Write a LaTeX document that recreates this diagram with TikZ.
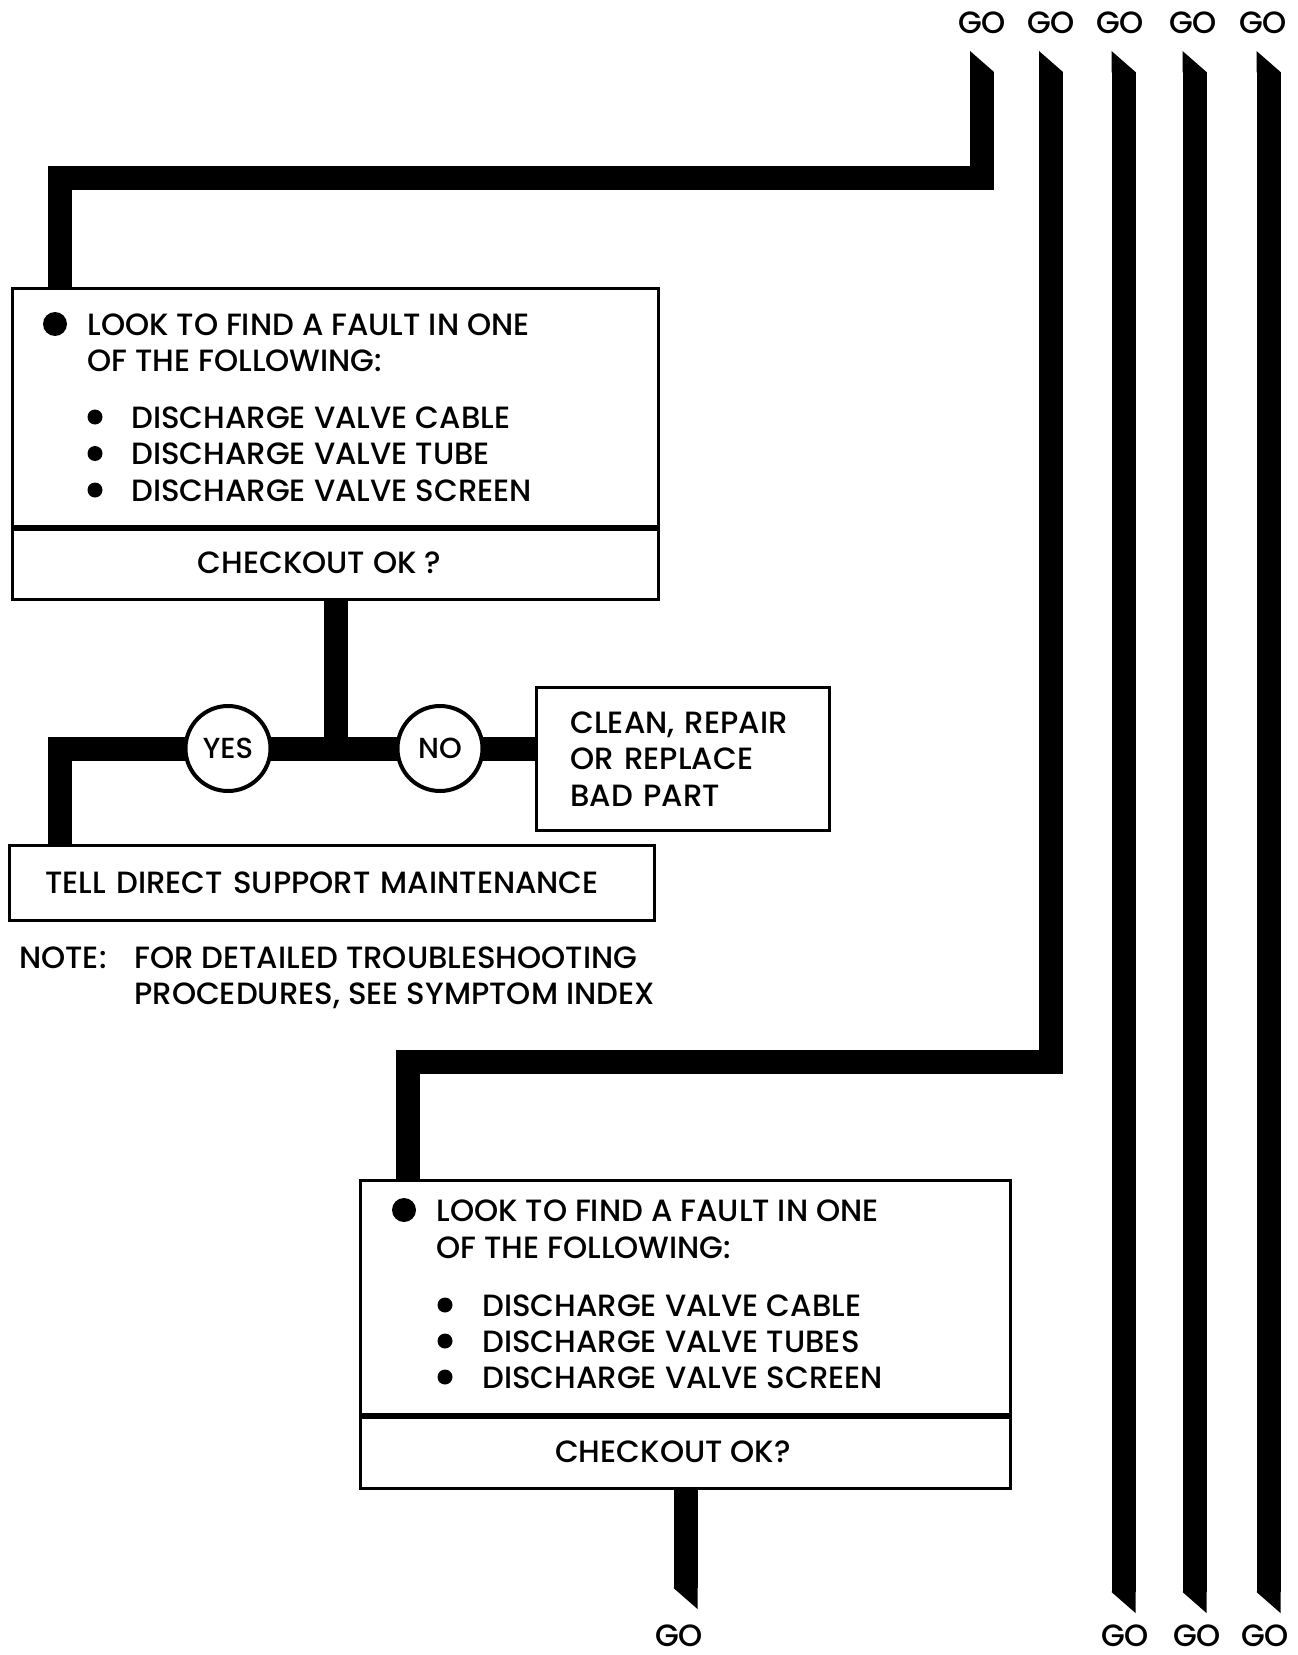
\documentclass[tikz,border=0pt]{standalone}
\usepackage{fontspec}
\setmainfont{Poppins}[UprightFont=* Medium]
\usetikzlibrary{positioning,fit}
\pgfdeclarelayer{background}
\pgfsetlayers{background,main}

\begin{document}
\begin{tikzpicture}[
  x=0.2mm, y=-0.2mm,
  font=\fontsize{17.5}{20.6}\selectfont,
  box/.style={draw,line width=0.6mm,fill=white,inner sep=0pt},
  txt/.style={anchor=west,inner sep=0pt,text height=4.4mm,text depth=0pt},
  go/.style={inner sep=0pt,text height=4.2mm,text depth=0pt},
  choice/.style={circle,draw,line width=0.8mm,fill=white,minimum size=17mm,inner sep=0pt,font=\fontsize{16.5}{18}\selectfont},
  bar/.style={line width=4.8mm,line join=miter},
  cuttop/.pic={\fill (-12,0.5) -- (-12,-21) -- (12,0) -- (12,0.5) -- cycle;},
  cutbot/.pic={\fill (-12,-0.5) -- (-12,0) -- (12,21) -- (12,-0.5) -- cycle;}
]
\useasboundingbox (0,0) rectangle (1297,1655);

% GO labels, top and bottom
\foreach \x [count=\i] in {982,1051,1120,1193,1263}
  \node[go] (go\i) at (\x,23) {GO};
\node[go] (gob0) at (679,1636) {GO};
\foreach \x [count=\i from 3] in {1125,1197,1265}
  \node[go] (gob\i) at (\x,1636) {GO};

% bar ends
\foreach \x [count=\i] in {982,1051,1123.5,1194.5,1268.5}
  \coordinate (top\i) at (\x,72);
\foreach \x [count=\i from 3] in {1123.5,1194.5,1268.5}
  \coordinate (end\i) at (\x,1592);

% first check
\node[box,anchor=north west,minimum width=129.2mm,minimum height=47.6mm] (find1) at (11,287) {};
\node[box,anchor=north,minimum width=129.2mm,minimum height=14mm] (chk1) at (find1.south) {};
\node[txt,anchor=center] (ask1) at ([xshift=-3.2mm,yshift=0.4mm]chk1.center) {CHECKOUT OK ?};
\node[txt] (head1) at (87,324) {LOOK TO FIND A FAULT IN ONE};
\node[txt] (head1b) at (87,360) {OF THE FOLLOWING:};
\fill ([xshift=-6.4mm]head1.west) circle (2.4mm);
\foreach \t [count=\i] in {DISCHARGE VALVE CABLE,DISCHARGE VALVE TUBE,DISCHARGE VALVE SCREEN} {
  \node[txt] (part1-\i) at (131,{417+36.5*(\i-1)}) {\t};
  \fill ([xshift=-7.2mm]part1-\i.west) circle (1.5mm);
}

% yes / no
\coordinate (fork) at (chk1.south |- 0,748.5);
\node[choice] (yes) at (228,748.5) {YES};
\node[choice] (no) at (440,748.5) {NO};
\node[box,anchor=north west,minimum width=58.6mm,minimum height=28.6mm,text width=45mm,inner xsep=6.8mm,align=left] (clean) at (535,686)
  {CLEAN, REPAIR\\OR REPLACE\\BAD PART};
\node[box,anchor=north west,minimum width=129mm,minimum height=15mm,text width=114.6mm,inner xsep=7.2mm,align=left] (tell) at (8,844)
  {TELL DIRECT SUPPORT MAINTENANCE};

% note
\node[txt] (note) at (19,957) {NOTE:};
\node[txt] (note1) at (134,957) {FOR DETAILED TROUBLESHOOTING};
\node[txt] (note2) at (134,993) {PROCEDURES, SEE SYMPTOM INDEX};

% second check
\node[box,anchor=north west,minimum width=130mm,minimum height=46.8mm] (find2) at (359,1179) {};
\node[box,anchor=north,minimum width=130mm,minimum height=14.2mm] (chk2) at (find2.south) {};
\node[txt,anchor=center] (ask2) at ([xshift=-2.5mm,yshift=0.4mm]chk2.center) {CHECKOUT OK?};
\node[txt] (head2) at (436,1210) {LOOK TO FIND A FAULT IN ONE};
\node[txt] (head2b) at (436,1247) {OF THE FOLLOWING:};
\fill ([xshift=-6.4mm]head2.west) circle (2.4mm);
\foreach \t [count=\i] in {DISCHARGE VALVE CABLE,DISCHARGE VALVE TUBES,DISCHARGE VALVE SCREEN} {
  \node[txt] (part2-\i) at (482,{1305+36*(\i-1)}) {\t};
  \fill ([xshift=-7.4mm]part2-\i.west) circle (1.5mm);
}
\coordinate (end0) at (chk2.south |- 0,1588);

% bars behind the boxes
\begin{pgfonlayer}{background}
  \coordinate (in1) at ([xshift=9.7mm]find1.north west);
  \coordinate (in2) at ([xshift=9.8mm]find2.north west);
  \coordinate (out1) at ([xshift=10.3mm]tell.north west);
  \draw[bar] (top1) |- (in1 |- 0,178) -- (in1);
  \draw[bar] (top2) |- (in2 |- 0,1061.5) -- (in2);
  \foreach \i in {3,4,5}
    \draw[bar] (top\i) -- (end\i);
  \foreach \i in {1,...,5}
    \pic at (top\i) {cuttop};
  \foreach \i in {0,3,4,5}
    \pic at (end\i) {cutbot};
  \draw[bar] (chk1.south) -- (fork);
  \draw[bar] (out1) |- (fork) -- (fork -| clean.west);
  \draw[bar] (chk2.south) -- (end0);
\end{pgfonlayer}
\end{tikzpicture}
\end{document}
